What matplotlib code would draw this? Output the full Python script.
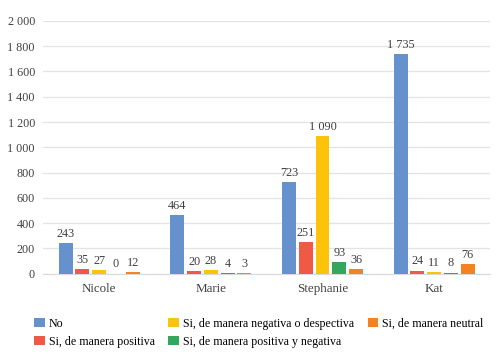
import matplotlib
matplotlib.use("Agg")
import matplotlib.pyplot as plt
import numpy as np

plt.rcParams["font.family"] = ["Liberation Serif", "DejaVu Serif"]

personas = ["Nicole", "Marie", "Stephanie", "Kat"]
series = ["No", "Si, de manera positiva", "Si, de manera negativa o despectiva",
          "Si, de manera positiva y negativa", "Si, de manera neutral"]
no_vals = [243, 464, 723, 1735]
positiva = [35, 20, 251, 24]
negativa = [27, 28, 1090, 11]
pos_neg = [0, 4, 93, 8]
neutral = [12, 3, 36, 76]
colores = ["#6592CD", "#EE5A45", "#FCC30A", "#33A85C", "#F58220"]


def fmt(v):
    return f"{v:,}".replace(",", " ")


fig = plt.figure(figsize=(4.98, 3.61), dpi=100)
ax = fig.add_axes([0.087, 0.242, 0.897, 0.70])

x = np.arange(len(personas))
step = 0.15
width = 0.125
datos = [no_vals, positiva, negativa, pos_neg, neutral]
for i, (vals, nombre, c) in enumerate(zip(datos, series, colores)):
    pos = x + (i - 2) * step
    bars = ax.bar(pos, vals, width, color=c, label=nombre, zorder=3)
    for b, v in zip(bars, vals):
        ax.text(b.get_x() + b.get_width() / 2, v + 25, fmt(v),
                ha="center", va="bottom", fontsize=8.8, color="#404040", zorder=4)

ax.set_xlim(-0.5, 3.5)
ax.set_ylim(0, 2000)
ax.set_yticks(range(0, 2001, 200))
ax.set_yticklabels([fmt(v) for v in range(0, 2001, 200)])
ax.set_xticks(x)
ax.set_xticklabels(personas)
ax.tick_params(axis="both", length=0, labelsize=8.7, colors="#404040")
ax.tick_params(axis="x", pad=7, labelsize=9.4)
ax.tick_params(axis="y", pad=6)
ax.grid(axis="y", color="#E3E3E3", linewidth=0.9, zorder=0)
for s in ["top", "right", "left"]:
    ax.spines[s].set_visible(False)
ax.spines["bottom"].set_color("#D9D9D9")

ax.legend(loc="upper left", bbox_to_anchor=(-0.02, -0.175), ncol=3, frameon=False,
          fontsize=8.6, handlelength=0.85, handleheight=0.85, handletextpad=0.35,
          columnspacing=1.15, labelspacing=0.5, borderaxespad=0, borderpad=0)

fig.savefig("out.png", dpi=100)
